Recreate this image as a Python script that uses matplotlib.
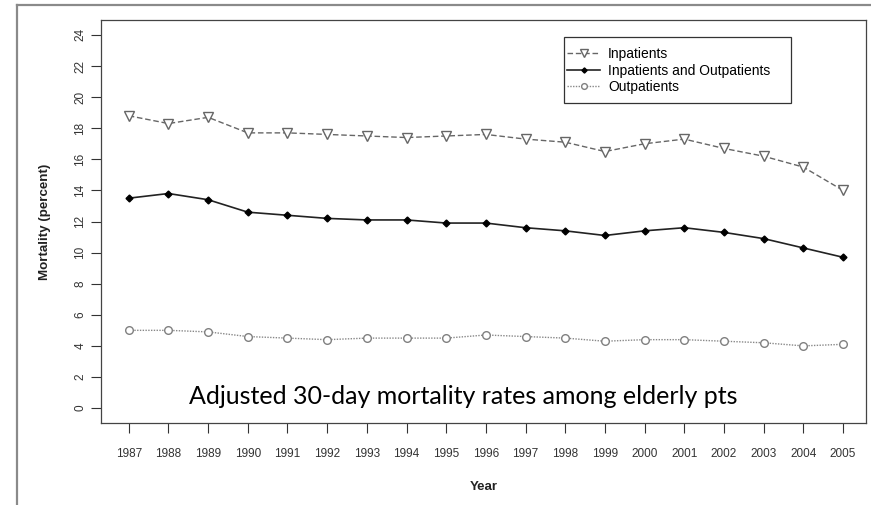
import matplotlib
matplotlib.use("Agg")
import matplotlib.pyplot as plt
from matplotlib.lines import Line2D
from matplotlib.patches import Rectangle

years = list(range(1987, 2006))
inpatients = [18.8, 18.3, 18.7, 17.7, 17.7, 17.6, 17.5, 17.4, 17.5, 17.6,
              17.3, 17.1, 16.5, 17.0, 17.3, 16.7, 16.2, 15.5, 14.0]
both = [13.5, 13.8, 13.4, 12.6, 12.4, 12.2, 12.1, 12.1, 11.9, 11.9,
        11.6, 11.4, 11.1, 11.4, 11.6, 11.3, 10.9, 10.3, 9.7]
outpatients = [5.0, 5.0, 4.9, 4.6, 4.5, 4.4, 4.5, 4.5, 4.5, 4.7,
               4.6, 4.5, 4.3, 4.4, 4.4, 4.3, 4.2, 4.0, 4.1]
y_ticks = list(range(0, 25, 2))

plt.rcParams['font.family'] = ['Liberation Sans', 'DejaVu Sans']

W, H = 871, 505
fig = plt.figure(figsize=(W / 100, H / 100), dpi=100)

# cropped outer frame: only top and left edges show
fig.add_artist(Line2D([17 / W, 1.0], [1 - 5 / H, 1 - 5 / H], color='#8a8a8a', lw=1.6))
fig.add_artist(Line2D([17 / W, 17 / W], [1 - 5 / H, 0.0], color='#8a8a8a', lw=1.6))

ax = fig.add_axes([101 / W, 1 - 423 / H, (866 - 101) / W, (423 - 20) / H])

ax.plot(years, inpatients, ls=(0, (4, 2)), color='#666666', lw=1.0,
        marker='v', ms=7.5, mfc='white', mec='#666666', mew=1.0, label='Inpatients')
ax.plot(years, both, ls='-', color='#222222', lw=1.2,
        marker='D', ms=3.5, mfc='black', mec='black', label='Inpatients and Outpatients')
ax.plot(years, outpatients, ls=(0, (1, 1)), color='#888888', lw=1.0,
        marker='o', ms=5.5, mfc='white', mec='#808080', mew=1.0, label='Outpatients')

ax.set_xlim(1986.3, 2005.58)
ax.set_ylim(-0.96, 24.96)
ax.set_xticks(years)
ax.set_yticks(y_ticks)
ax.tick_params(axis='x', length=7, width=0.8, pad=11, labelsize=8.5, colors='#333333')
ax.tick_params(axis='y', length=7, width=0.8, pad=3.5, labelsize=8.5, colors='#333333',
               labelrotation=90)
for lab in ax.get_yticklabels():
    lab.set_va('center')
for s in ax.spines.values():
    s.set_color('#444444')
    s.set_linewidth(0.9)

ax.set_xlabel('Year', fontsize=9.5, fontweight='bold', color='#222222', va='center')
ax.set_ylabel('Mortality (percent)', fontsize=9.6, fontweight='bold', color='#222222',
              va='center')
ax.xaxis.set_label_coords(0.5, -(487 - 423) / 403)
ax.yaxis.set_label_coords(-(101 - 45) / 765, 0.5)

leg = ax.legend(loc='upper left', bbox_to_anchor=(567 / W, 1 - 47 / H),
                bbox_transform=fig.transFigure, fontsize=10, frameon=False,
                handlelength=2.4, labelspacing=0.18, borderpad=0,
                handletextpad=0.55, borderaxespad=0, markerscale=0.75)
# legend box is wider than its entries on the right
fig.add_artist(Rectangle((564 / W, 1 - 103 / H), (791 - 564) / W, (103 - 37) / H,
                         transform=fig.transFigure, fill=False,
                         edgecolor='#333333', lw=0.9))

fig.text(463 / W, 1 - 404 / H, 'Adjusted 30-day mortality rates among elderly pts',
         family=['Lato', 'DejaVu Sans'], fontsize=18, ha='center', va='baseline',
         color='black')

fig.savefig('out.png', dpi=100, facecolor='white')
